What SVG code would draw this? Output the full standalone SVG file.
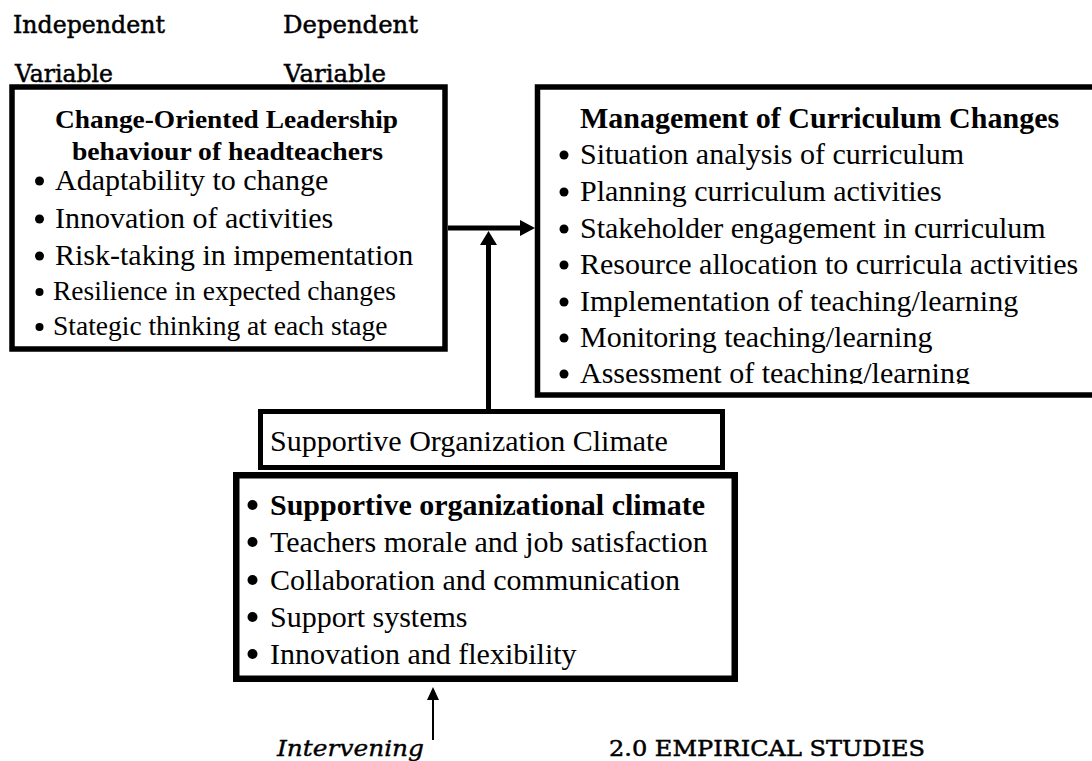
<svg xmlns="http://www.w3.org/2000/svg" width="1092" height="761" viewBox="0 0 1092 761">
  <style>
    .box { fill: #ffffff; stroke: #000000; }
    .hd { font-family: "DejaVu Serif", "Liberation Serif", serif; font-size: 24px; fill: #000000; stroke: #000000; stroke-width: 0.5px; }
    .it { font-family: "DejaVu Serif", "Liberation Serif", serif; font-size: 23px; font-style: italic; fill: #000000; stroke: #000000; stroke-width: 0.4px; }
    .sec { font-family: "DejaVu Serif", "Liberation Serif", serif; font-size: 23px; fill: #000000; stroke: #000000; stroke-width: 0.5px; }
    .t30 { font-family: "Liberation Serif", "Times New Roman", serif; font-size: 30px; fill: #000000; }
    .t28 { font-family: "Liberation Serif", "Times New Roman", serif; font-size: 27.5px; fill: #000000; }
    .b30 { font-family: "Liberation Serif", "Times New Roman", serif; font-size: 30px; font-weight: bold; fill: #000000; }
    .b26 { font-family: "Liberation Serif", "Times New Roman", serif; font-size: 26px; font-weight: bold; fill: #000000; }
    .dot { fill: #000000; }
    .wire { stroke: #000000; fill: none; }
    .head { fill: #000000; stroke: none; }
  </style>

  <defs>
    <!-- the last list line is cut off by the frame's inner edge -->
    <clipPath id="curriculum-inner">
      <rect x="540" y="90" width="560" height="294"/>
    </clipPath>
  </defs>

  <!-- column captions -->
  <g id="captions">
    <text class="hd" x="13" y="33" textLength="152" lengthAdjust="spacingAndGlyphs">Independent</text>
    <text class="hd" x="15" y="82" textLength="98" lengthAdjust="spacingAndGlyphs">Variable</text>
    <text class="hd" x="283" y="33" textLength="135" lengthAdjust="spacingAndGlyphs">Dependent</text>
    <text class="hd" x="284" y="82" textLength="102" lengthAdjust="spacingAndGlyphs">Variable</text>
  </g>

  <!-- independent variable -->
  <g id="leadership">
    <rect class="box" x="12" y="87" width="433" height="262" stroke-width="5.5"/>
    <text class="b26" x="226.5" y="128" text-anchor="middle" textLength="343" lengthAdjust="spacingAndGlyphs">Change-Oriented Leadership</text>
    <text class="b26" x="227.5" y="160" text-anchor="middle" textLength="311" lengthAdjust="spacingAndGlyphs">behaviour of headteachers</text>
    <circle class="dot" cx="39.5" cy="181" r="4.5"/>
    <text class="t30" x="55" y="190">Adaptability to change</text>
    <circle class="dot" cx="39.5" cy="219" r="4.5"/>
    <text class="t30" x="55" y="228">Innovation of activities</text>
    <circle class="dot" cx="39.5" cy="256" r="4.5"/>
    <text class="t30" x="55" y="265">Risk-taking in impementation</text>
    <circle class="dot" cx="39.5" cy="292" r="4"/>
    <text class="t28" x="53" y="300">Resilience in expected changes</text>
    <circle class="dot" cx="39.5" cy="327" r="4"/>
    <text class="t28" x="53" y="335">Stategic thinking at each stage</text>
  </g>

  <!-- dependent variable -->
  <g id="curriculum">
    <rect class="box" x="537.5" y="87" width="600" height="308" stroke-width="5.5"/>
    <g clip-path="url(#curriculum-inner)">
      <text class="b30" x="580" y="128">Management of Curriculum Changes</text>
      <circle class="dot" cx="564" cy="155" r="4.5"/>
      <text class="t30" x="580" y="164">Situation analysis of curriculum</text>
      <circle class="dot" cx="564" cy="192" r="4.5"/>
      <text class="t30" x="580" y="201">Planning curriculum activities</text>
      <circle class="dot" cx="564" cy="229" r="4.5"/>
      <text class="t30" x="580" y="238">Stakeholder engagement in curriculum</text>
      <circle class="dot" cx="564" cy="265" r="4.5"/>
      <text class="t30" x="580" y="274">Resource allocation to curricula activities</text>
      <circle class="dot" cx="564" cy="302" r="4.5"/>
      <text class="t30" x="580" y="311">Implementation of teaching/learning</text>
      <circle class="dot" cx="564" cy="338" r="4.5"/>
      <text class="t30" x="580" y="347">Monitoring teaching/learning</text>
      <circle class="dot" cx="564" cy="374" r="4.5"/>
      <text class="t30" x="580" y="383">Assessment of teaching/learning</text>
    </g>
  </g>

  <!-- intervening variable title -->
  <g id="climate-title">
    <rect class="box" x="260.5" y="411.5" width="462" height="56" stroke-width="5"/>
    <text class="t30" x="270" y="451">Supportive Organization Climate</text>
  </g>

  <!-- intervening variable items -->
  <g id="climate">
    <rect class="box" x="236.25" y="475.25" width="498.5" height="203.5" stroke-width="6.5"/>
    <circle class="dot" cx="252.5" cy="505" r="5"/>
    <text class="b30" x="270" y="515">Supportive organizational climate</text>
    <circle class="dot" cx="252.5" cy="542" r="5"/>
    <text class="t30" x="270" y="552">Teachers morale and job satisfaction</text>
    <circle class="dot" cx="252.5" cy="580" r="5"/>
    <text class="t30" x="270" y="590">Collaboration and communication</text>
    <circle class="dot" cx="252.5" cy="617" r="5"/>
    <text class="t30" x="270" y="627">Support systems</text>
    <circle class="dot" cx="252.5" cy="654" r="5"/>
    <text class="t30" x="270" y="664">Innovation and flexibility</text>
  </g>

  <!-- connectors -->
  <g id="connectors">
    <line class="wire" x1="448" y1="228" x2="521" y2="228" stroke-width="5"/>
    <polygon class="head" points="520,220 535,228 520,236"/>
    <line class="wire" x1="488.5" y1="409" x2="488.5" y2="244" stroke-width="5"/>
    <polygon class="head" points="480,245 488.5,231 497,245"/>
    <line class="wire" x1="433" y1="740" x2="433" y2="699" stroke-width="2"/>
    <polygon class="head" points="427,700 433,687 439,700"/>
  </g>

  <!-- footer labels -->
  <g id="footer">
    <text class="it" x="277" y="756" textLength="147" lengthAdjust="spacingAndGlyphs">Intervening</text>
    <text class="sec" x="609" y="756" textLength="316" lengthAdjust="spacingAndGlyphs">2.0 EMPIRICAL STUDIES</text>
  </g>
</svg>
